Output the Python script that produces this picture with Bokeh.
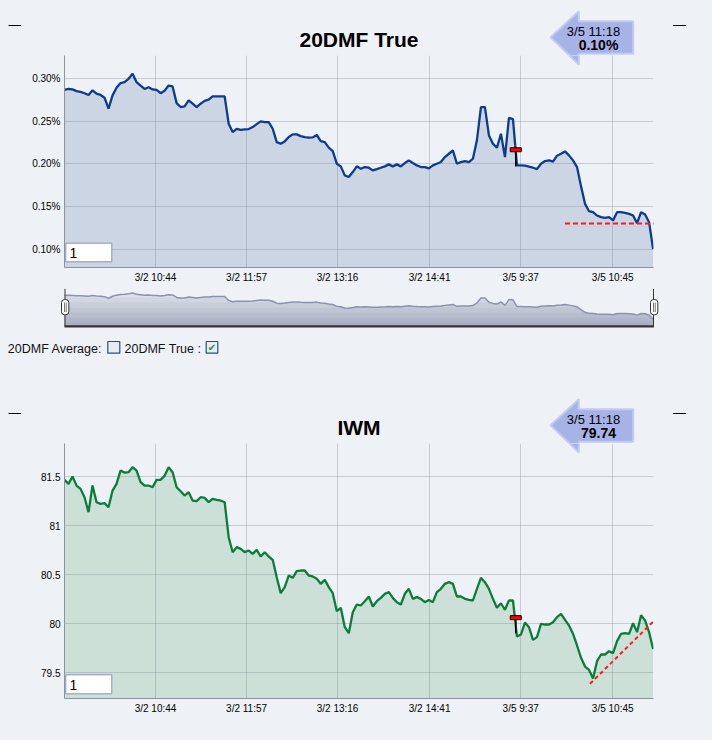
import numpy as np
from bokeh.plotting import figure
from bokeh.layouts import column
from bokeh.models import FixedTicker, Range1d, BoxAnnotation, Label, PolyAnnotation
from bokeh.embed import file_html
from bokeh.resources import INLINE

BG = "#eef2f7"
FONT = "Liberation Sans"

# ---------------- data ----------------
tick_pos = [22.73, 45.47, 68.2, 91.19, 113.93, 136.91]
tick_labels = ["3/2 10:44", "3/2 11:57", "3/2 13:16", "3/2 14:41", "3/5 9:37", "3/5 10:45"]

dmf_true = [
    0.287, 0.288, 0.2875, 0.2855, 0.2845, 0.283, 0.281, 0.2865, 0.2825, 0.281,
    0.2777, 0.265, 0.2805, 0.2895, 0.295, 0.296, 0.300, 0.306, 0.296, 0.292,
    0.288, 0.290, 0.2875, 0.287, 0.283, 0.286, 0.292, 0.291, 0.2714, 0.2668,
    0.2675, 0.2746, 0.2707, 0.2668, 0.2707, 0.274, 0.2754, 0.2793, 0.2793, 0.2793,
    0.2793, 0.2472, 0.2374, 0.2413, 0.240, 0.2405, 0.241, 0.2433, 0.2468, 0.250,
    0.2492, 0.2492, 0.2413, 0.2257, 0.2238, 0.2265, 0.2316, 0.2347, 0.2347, 0.2327,
    0.2316, 0.2308, 0.2312, 0.234, 0.2269, 0.2257, 0.2191, 0.2151, 0.2003, 0.1972,
    0.1866, 0.1847, 0.1905, 0.1972, 0.1944, 0.1964, 0.1956, 0.1925, 0.194, 0.1956,
    0.1972, 0.1995, 0.1972, 0.1995, 0.1972, 0.2011, 0.2042, 0.2011, 0.1983, 0.1964,
    0.1964, 0.1948, 0.1983, 0.2003, 0.2023, 0.2081, 0.212, 0.2159, 0.2003, 0.2023,
    0.2034, 0.2023, 0.2062, 0.2277, 0.2668, 0.2668, 0.2335, 0.2238, 0.219, 0.2355,
    0.2081, 0.2542, 0.2526, 0.1983, 0.1983, 0.198, 0.197, 0.1956, 0.194, 0.2003,
    0.2034, 0.2042, 0.2027, 0.2097, 0.212, 0.2147, 0.2101, 0.2042, 0.1964, 0.1737,
    0.1532, 0.1446, 0.1434, 0.1395, 0.1376, 0.1368, 0.1376, 0.1337, 0.1434, 0.1434,
    0.1426, 0.1415, 0.1395, 0.1305, 0.1434, 0.1407, 0.1317, 0.100,
]

iwm = [
    81.466, 81.425, 81.50, 81.408, 81.374, 81.289, 81.136, 81.408, 81.238, 81.221,
    81.228, 81.187, 81.357, 81.425, 81.561, 81.54, 81.544, 81.595, 81.561, 81.442,
    81.408, 81.408, 81.391, 81.466, 81.466, 81.507, 81.595, 81.544, 81.391, 81.35,
    81.306, 81.34, 81.255, 81.248, 81.289, 81.282, 81.238, 81.272, 81.262, 81.255,
    81.238, 80.881, 80.728, 80.779, 80.762, 80.728, 80.745, 80.711, 80.752, 80.684,
    80.728, 80.684, 80.65, 80.473, 80.31, 80.371, 80.49, 80.466, 80.534, 80.541,
    80.541, 80.49, 80.48, 80.456, 80.405, 80.446, 80.371, 80.31, 80.126, 80.16,
    79.963, 79.901, 80.116, 80.194, 80.184, 80.228, 80.276, 80.174, 80.228, 80.262,
    80.303, 80.32, 80.262, 80.218, 80.194, 80.303, 80.354, 80.252, 80.269, 80.252,
    80.218, 80.241, 80.218, 80.32, 80.354, 80.405, 80.422, 80.405, 80.276, 80.276,
    80.252, 80.241, 80.235, 80.354, 80.466, 80.422, 80.354, 80.252, 80.16, 80.207,
    80.14, 80.235, 80.235, 79.867, 79.888, 80.01, 79.963, 79.833, 79.861, 79.997,
    79.99, 79.99, 80.014, 80.065, 80.099, 80.037, 79.98, 79.895, 79.776, 79.65,
    79.561, 79.527, 79.44, 79.616, 79.684, 79.684, 79.718, 79.697, 79.82, 79.895,
    79.901, 79.895, 80.003, 79.912, 80.085, 80.03, 79.912, 79.74,
]

x = list(range(len(dmf_true)))

dmf_ticks = [0.10, 0.15, 0.20, 0.25, 0.30]
dmf_tick_labels = ["0.10%", "0.15%", "0.20%", "0.25%", "0.30%"]
iwm_ticks = [79.5, 80.0, 80.5, 81.0, 81.5]
iwm_tick_labels = ["79.5", "80", "80.5", "81", "81.5"]

last_time = "3/5 11:18"
dmf_last = "0.10%"
iwm_last = "79.74"

mark_x = [112.7]
dmf_mark_y = [0.2167]
dmf_mark_base = [0.197]
iwm_mark_y = [80.06]
iwm_mark_base = [79.90]

dmf_trend_x = [125.0, 150.0]
dmf_trend_y = [0.13, 0.13]
iwm_trend_x = [131.25, 148.9]
iwm_trend_y = [79.385, 80.095]

legend_items = ["20DMF Average:", "20DMF True :"]

# ---------------- geometry (pixels) ----------------
W = 712
X_END = 147.1
FRAME_L, FRAME_R = 64, 653          # plot frame, page x
NAV_LO, NAV_HI = 0.04, 0.34


# ---------------- helpers ----------------
def cbox(p, l, r, t, b, fill, line=None, lw=1, alpha=1.0, **kw):
    p.add_layout(BoxAnnotation(left=l, right=r, top=t, bottom=b,
                               left_units="canvas", right_units="canvas",
                               top_units="canvas", bottom_units="canvas",
                               fill_color=fill, fill_alpha=alpha,
                               line_color=line, line_alpha=1.0, line_width=lw, **kw))


def ctext(p, x0, y0, s, size, bold=False, align="center", color="#000000", font=FONT):
    p.add_layout(Label(x=x0, y=y0, x_units="canvas", y_units="canvas", text=s,
                       text_font=font, text_font_size=size,
                       text_font_style="bold" if bold else "normal",
                       text_align=align, text_baseline="middle", text_color=color))


def arrow(p, dy, tip_x, tip_y, head_x, head_top, body_top, body_bot, head_bot, right):
    ys = [tip_y, head_top, body_top, body_top, body_bot, body_bot, head_bot]
    p.add_layout(PolyAnnotation(
        xs=[tip_x, head_x, head_x, right, right, head_x, head_x],
        ys=[v - dy for v in ys],
        xs_units="canvas", ys_units="canvas",
        fill_color="#a7b3e6", fill_alpha=1.0,
        line_color="#c3cbf0", line_alpha=1.0, line_width=2))


def blank(h, xr=(0, 1), yr=(0, 1)):
    p = figure(width=W, height=h, x_range=Range1d(*xr), y_range=Range1d(*yr),
               output_backend="svg", toolbar_location=None, title=None,
               frame_align=False,
               min_border_left=0, min_border_right=0, min_border_top=0, min_border_bottom=0,
               background_fill_color=BG, border_fill_color=BG, outline_line_color=None)
    p.axis.visible = False
    p.grid.visible = False
    return p


def header(h, title, last_val, dy):
    p = blank(h)
    cbox(p, 8, 20.5, 24.5 + dy, 25.6 + dy, "#000000")
    cbox(p, 672.7, 685.5, 24.5 + dy, 25.6 + dy, "#000000")
    ctext(p, 358.5, 39.3 + dy, title, "21px", bold=True)
    arrow(p, -dy, 550, 36.7, 578.3, 10.7, 20.7, 53.3, 64, 632.7)
    ctext(p, 593, 30.7 + dy, last_time, "13px")
    ctext(p, 598, 44.5 + dy, last_val, "14px", bold=True)
    return p


def chart(vals, yr, h, bottom, fill, line, yticks, ylabels):
    p = figure(width=W, height=h, x_range=Range1d(0, X_END), y_range=Range1d(*yr),
               output_backend="svg", toolbar_location=None, title=None,
               frame_align=False,
               min_border_left=FRAME_L, min_border_right=W - FRAME_R,
               min_border_top=0, min_border_bottom=bottom,
               background_fill_color=BG, border_fill_color=BG,
               outline_line_color=None)
    p.varea(x=x, y1=yr[0], y2=vals, fill_color=fill, level="image")
    p.line(x, vals, line_color=line, line_width=2.3)
    p.xaxis.ticker = FixedTicker(ticks=tick_pos)
    p.xaxis.major_label_overrides = dict(zip(tick_pos, tick_labels))
    p.yaxis.ticker = FixedTicker(ticks=yticks)
    p.yaxis.major_label_overrides = dict(zip(yticks, ylabels))
    for ax in (p.xaxis[0], p.yaxis[0]):
        ax.major_tick_line_color = None
        ax.minor_tick_line_color = None
        ax.major_tick_out = 0
        ax.major_tick_in = 0
        ax.axis_line_color = "#8d939a"
        ax.axis_line_width = 1
        ax.major_label_text_font = FONT
        ax.major_label_text_font_size = "10px"
        ax.major_label_text_color = "#000000"
        ax.major_label_standoff = 4
    p.grid.grid_line_color = "#7d858f"
    p.grid.grid_line_alpha = 0.35
    p.xgrid.ticker = FixedTicker(ticks=tick_pos)
    p.ygrid.ticker = FixedTicker(ticks=yticks)
    return p


# ---------------- top header + chart (page y 0..55, 55..288) ----------------
ha = header(55, "20DMF True", dmf_last, 0)

pa = chart(dmf_true, (0.0785, 0.3273), 233, 21, "#ccd5e3", "#0d3c8c",
           dmf_ticks, dmf_tick_labels)
pa.line(dmf_trend_x, dmf_trend_y, line_color="#ff1a1a", line_width=2, line_dash="5 3")
pa.segment(x0=mark_x, y0=dmf_mark_base, x1=mark_x, y1=dmf_mark_y, line_color="black", line_width=1.5)
pa.rect(x=mark_x, y=dmf_mark_y, width=11, height=4, width_units="screen", height_units="screen",
        fill_color="#ff0000", line_color="black", line_width=1)
arrow(pa, 55, 550, 36.7, 578.3, 10.7, 20.7, 53.3, 64, 632.7)
cbox(pa, 65.3, 111.3, 187.7, 206.3, "#ffffff", line="#7f98b4", lw=1)
ctext(pa, 69, 197.5, "1", "14px", align="left")

# ---------------- navigator + legend (page y 288..370) ----------------
NAV_H = 82
NAV_TOP, NAV_BOT = 0.3, 38.0          # canvas y of navigator box
px_x = (FRAME_R - FRAME_L) / X_END
px_y = (NAV_BOT - NAV_TOP) / (NAV_HI - NAV_LO)
pb = blank(NAV_H,
           xr=(-FRAME_L / px_x, X_END + (W - FRAME_R) / px_x),
           yr=(NAV_LO - (NAV_H - NAV_BOT) / px_y, NAV_HI + NAV_TOP / px_y))
nav_vals = np.array(dmf_true)
pb.varea(x=x, y1=NAV_LO, y2=nav_vals, fill_color="#dde0e9")
for lvl in [0.27, 0.23, 0.19, 0.15, 0.11, 0.075]:
    pb.varea(x=x, y1=NAV_LO, y2=np.minimum(nav_vals, lvl), fill_color="#7a8299", fill_alpha=0.1)
pb.line(x, dmf_true, line_color="#8a93ae", line_width=1.5)

cbox(pb, FRAME_L, FRAME_L + 1, NAV_TOP, NAV_BOT, "#333333")
cbox(pb, FRAME_R - 0.5, FRAME_R + 0.5, NAV_TOP, NAV_BOT, "#333333")
cbox(pb, FRAME_L, FRAME_R + 0.5, NAV_BOT - 1.2, NAV_BOT + 1, "#333333")
for hl in (61, 650):
    cbox(pb, hl, hl + 7.3, 11, 26.3, "#ffffff", line="#333333", lw=1, border_radius=3)
    cbox(pb, hl + 2.5, hl + 3.3, 14, 23.5, "#555555")
    cbox(pb, hl + 4.3, hl + 5.1, 14, 23.5, "#555555")

ctext(pb, 7.3, 60.3, legend_items[0], "12.5px", align="left", color="#111111")
cbox(pb, 107.3, 119.3, 53, 64.7, "#e9ebef", line="#264f7f", lw=1.2)
ctext(pb, 124, 60.3, legend_items[1], "12.5px", align="left", color="#111111")
cbox(pb, 205.7, 217.3, 53, 64.7, "#e9ebef", line="#264f7f", lw=1.2)
ctext(pb, 211.5, 58.5, "\u2714", "10px", color="#1f9a2a", font="DejaVu Sans")

# ---------------- bottom header + chart (page y 370..443, 443..740) ----------------
hc = header(73, "IWM", iwm_last, 18)

pc = chart(iwm, (79.235, 81.837), 297, 42, "#cde0d8", "#0a7d3a",
           iwm_ticks, iwm_tick_labels)
pc.line(iwm_trend_x, iwm_trend_y, line_color="#ff1a1a", line_width=2, line_dash="4 3")
pc.segment(x0=mark_x, y0=iwm_mark_base, x1=mark_x, y1=iwm_mark_y, line_color="black", line_width=1.5)
pc.rect(x=mark_x, y=iwm_mark_y, width=11, height=4, width_units="screen", height_units="screen",
        fill_color="#ff0000", line_color="black", line_width=1)
arrow(pc, 73 - 18, 550, 36.7, 578.3, 10.7, 20.7, 53.3, 64, 632.7)
cbox(pc, 65.3, 111.3, 231.3, 250.3, "#ffffff", line="#7f98b4", lw=1)
ctext(pc, 69, 241, "1", "14px", align="left")

layout = column(ha, pa, pb, hc, pc, spacing=0)

html = file_html(layout, INLINE, title="20DMF True / IWM")
html = html.replace("</head>",
                    "<style>html, body { background-color: %s !important; }</style></head>" % BG, 1)
open("out.html", "w").write(html)
